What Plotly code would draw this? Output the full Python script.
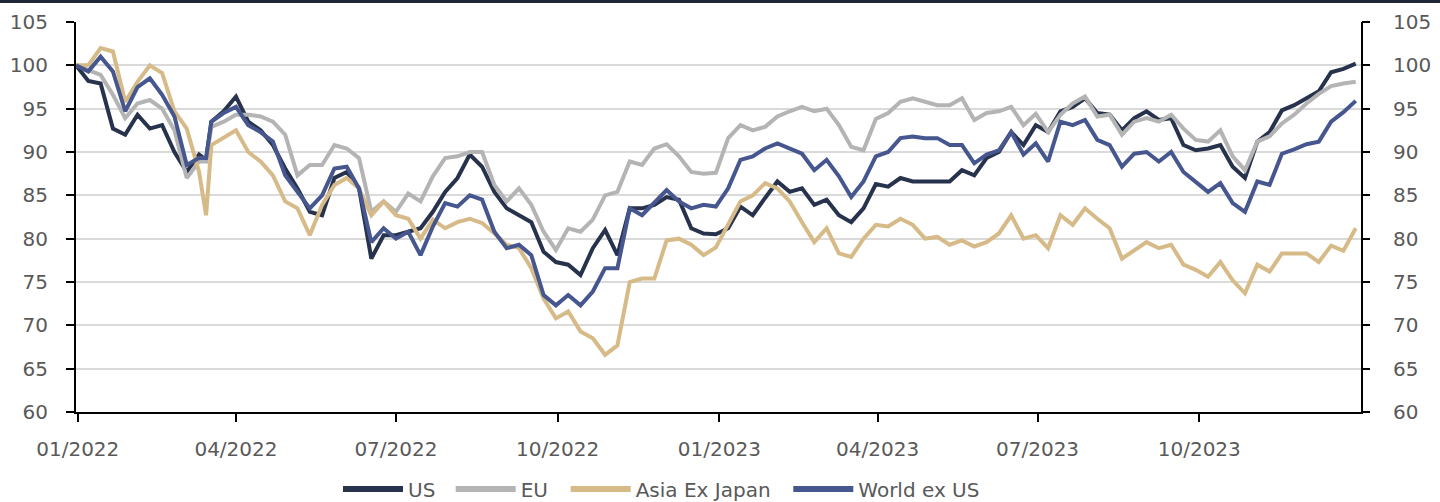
import pandas as pd
import plotly.graph_objects as go

# Weekly closes (Fridays), rebased to 100 on 31 Dec 2021, plus the 15 Mar 2022 close
dates = sorted(list(pd.date_range("2021-12-31", periods=105, freq="7D"))
               + [pd.Timestamp("2022-03-15")])

us = [100.0, 98.2, 97.9, 92.7, 92.0, 94.3, 92.7, 93.1, 90.0, 87.7,
      89.7, 89.1, 93.5, 94.7, 96.4, 93.5, 92.5, 90.8, 88.1, 85.8, 83.1,
      82.7, 87.0, 87.7, 85.8, 77.7, 80.4, 80.4, 80.8, 81.2, 83.1,
      85.4, 87.0, 89.7, 88.3, 85.4, 83.5, 82.7, 81.9, 78.5, 77.3,
      77.0, 75.8, 78.9, 81.0, 78.1, 83.5, 83.5, 83.9, 84.8, 84.5,
      81.2, 80.6, 80.5, 81.2, 83.7, 82.7, 84.7, 86.6, 85.4, 85.8,
      83.9, 84.5, 82.7, 81.9, 83.5, 86.3, 86.0, 87.0, 86.6, 86.6,
      86.6, 86.6, 87.9, 87.3, 89.3, 90.0, 92.3, 90.8, 93.1, 92.3,
      94.7, 95.2, 96.2, 94.5, 94.3, 92.5, 93.9, 94.7, 93.7, 93.9,
      90.8, 90.2, 90.4, 90.8, 88.3, 87.0, 91.2, 92.3, 94.8, 95.4,
      96.2, 97.0, 99.2, 99.6, 100.2]

eu = [100.0, 99.5, 98.9, 96.6, 93.9, 95.6, 96.0, 95.0, 92.5, 87.0,
      88.9, 88.9, 92.9, 93.5, 94.3, 94.3, 94.1, 93.5, 92.0, 87.3, 88.5,
      88.5, 90.8, 90.4, 89.3, 83.1, 84.3, 83.1, 85.2, 84.3, 87.2,
      89.3, 89.5, 90.0, 90.0, 86.2, 84.3, 85.8, 83.9, 80.8, 78.7,
      81.2, 80.8, 82.2, 85.0, 85.4, 88.9, 88.5, 90.4, 90.9, 89.5,
      87.7, 87.5, 87.6, 91.6, 93.1, 92.5, 92.9, 94.1, 94.7, 95.2,
      94.7, 95.0, 93.1, 90.6, 90.2, 93.8, 94.5, 95.8, 96.2, 95.8,
      95.4, 95.4, 96.2, 93.7, 94.5, 94.7, 95.2, 93.1, 94.4, 92.3,
      94.3, 95.6, 96.4, 94.1, 94.3, 92.0, 93.5, 93.9, 93.5, 94.3,
      92.7, 91.4, 91.2, 92.5, 89.5, 87.9, 91.2, 91.8, 93.3, 94.3,
      95.6, 96.7, 97.6, 97.9, 98.1]

asia_ex_japan = [100.0, 100.0, 102.0, 101.6, 95.8, 98.1, 100.0, 99.1, 94.7, 92.7,
                 87.7, 82.7, 90.8, 91.6, 92.5, 90.0, 88.9, 87.3, 84.3, 83.5, 80.4,
                 83.9, 86.2, 87.0, 85.8, 82.7, 84.3, 82.7, 82.3, 80.0, 82.2,
                 81.2, 81.9, 82.3, 81.8, 80.6, 79.3, 78.9, 76.6, 73.1, 70.8,
                 71.6, 69.3, 68.5, 66.6, 67.7, 75.0, 75.4, 75.4, 79.8, 80.0,
                 79.3, 78.1, 79.0, 81.6, 84.3, 85.0, 86.4, 85.8, 84.3, 81.9,
                 79.6, 81.2, 78.3, 77.9, 80.0, 81.6, 81.4, 82.3, 81.6, 80.0,
                 80.2, 79.3, 79.8, 79.1, 79.6, 80.6, 82.7, 80.0, 80.4, 78.9,
                 82.7, 81.6, 83.5, 82.3, 81.2, 77.7, 78.7, 79.6, 78.9, 79.3,
                 77.0, 76.4, 75.6, 77.3, 75.2, 73.7, 77.0, 76.2, 78.3, 78.3,
                 78.3, 77.3, 79.2, 78.6, 81.2]

world_ex_us = [100.0, 99.3, 101.0, 99.3, 94.7, 97.5, 98.5, 96.6, 94.1, 88.5,
               89.3, 89.3, 93.5, 94.5, 95.2, 93.1, 92.3, 91.2, 87.3, 85.4, 83.5,
               85.0, 88.1, 88.3, 85.8, 79.6, 81.2, 80.0, 80.8, 78.1, 81.4,
               84.1, 83.7, 85.0, 84.5, 80.8, 78.9, 79.3, 78.1, 73.5, 72.3,
               73.5, 72.3, 73.9, 76.6, 76.6, 83.5, 82.7, 84.1, 85.6, 84.3,
               83.5, 83.9, 83.7, 85.8, 89.1, 89.5, 90.4, 91.0, 90.4, 89.8,
               87.9, 89.1, 87.2, 84.8, 86.6, 89.5, 90.0, 91.6, 91.8, 91.6,
               91.6, 90.8, 90.8, 88.7, 89.7, 90.2, 92.3, 89.7, 91.0, 88.9,
               93.5, 93.1, 93.7, 91.4, 90.8, 88.3, 89.8, 90.0, 88.9, 90.0,
               87.7, 86.6, 85.4, 86.4, 84.1, 83.1, 86.6, 86.2, 89.8, 90.3,
               90.9, 91.2, 93.5, 94.6, 95.9]

series_names = ["US", "EU", "Asia Ex Japan", "World ex US"]
series_colors = ["#27324c", "#b4b4b4", "#d6ba88", "#46568e"]
# non-breaking padding after each legend label to space the entries
legend_pad = ["\u00a0\u2009", "\u00a0\u00a0", "\u00a0\u00a0", ""]

tick_dates = ["2022-01-01", "2022-04-01", "2022-07-01", "2022-10-01",
              "2023-01-01", "2023-04-01", "2023-07-01", "2023-10-01"]
tick_labels = ["01/2022", "04/2022", "07/2022", "10/2022",
               "01/2023", "04/2023", "07/2023", "10/2023"]
y_ticks = list(range(60, 106, 5))

fig = go.Figure()
for name, values, color in zip(series_names, [us, eu, asia_ex_japan, world_ex_us], series_colors):
    fig.add_trace(go.Scatter(x=dates, y=values, mode="lines", name=name,
                             line=dict(color=color, width=4), showlegend=False))
# legend keys drawn with a heavier stroke
for name, color, pad in zip(series_names, series_colors, legend_pad):
    fig.add_trace(go.Scatter(x=[None], y=[None], mode="lines", name=name + pad,
                             line=dict(color=color, width=6), showlegend=True))
# right-hand axes: one carries the labels, one the short black tick marks
for axis_ref in ["y2", "y3"]:
    fig.add_trace(go.Scatter(x=[dates[0]], y=[None], yaxis=axis_ref,
                             showlegend=False, hoverinfo="skip"))

tick_font = dict(family="DejaVu Sans", size=20, color="#595959")

fig.update_layout(
    width=1440, height=502,
    margin=dict(l=76, r=79, t=22, b=90, autoexpand=False),
    paper_bgcolor="white", plot_bgcolor="white",
    xaxis=dict(type="date", range=["2021-12-31", "2024-01-01"],
               tickvals=tick_dates, ticktext=tick_labels,
               showline=True, linecolor="black", linewidth=2,
               ticks="outside", ticklen=8, tickwidth=2, tickcolor="black",
               tickfont=tick_font, ticklabelstandoff=10, showgrid=False,
               zeroline=False),
    yaxis=dict(range=[60, 105], tickvals=y_ticks, showline=True,
               linecolor="black", linewidth=2, ticks="outside", ticklen=8,
               tickwidth=2, tickcolor="black", tickfont=tick_font,
               ticklabelstandoff=14, zeroline=False, showgrid=True,
               gridcolor="#dadada", gridwidth=2),
    yaxis2=dict(range=[60, 105], tickvals=y_ticks, overlaying="y", side="right",
                showline=True, linecolor="black", linewidth=2,
                ticks="outside", ticklen=26, tickwidth=2,
                tickcolor="rgba(0,0,0,0)", tickfont=tick_font,
                showgrid=False, zeroline=False),
    yaxis3=dict(range=[60, 105], tickvals=y_ticks, overlaying="y", side="right",
                showline=False, ticks="outside", ticklen=8, tickwidth=2,
                tickcolor="black", showticklabels=False,
                showgrid=False, zeroline=False),
    legend=dict(orientation="h", x=(338 - 76) / 1285, xanchor="left",
                yref="container", y=1 - 489 / 502, yanchor="middle",
                font=dict(family="DejaVu Sans", size=20, color="#595959"),
                itemwidth=60, tracegroupgap=0, bgcolor="rgba(0,0,0,0)"),
    shapes=[dict(type="rect", xref="paper", yref="paper",
                 x0=-76 / 1285, x1=1 + 79 / 1285, y0=1 + 19 / 390, y1=1 + 23 / 390,
                 fillcolor="#1e2639", line=dict(width=0), layer="above")],
)

fig.write_html("out.html")
